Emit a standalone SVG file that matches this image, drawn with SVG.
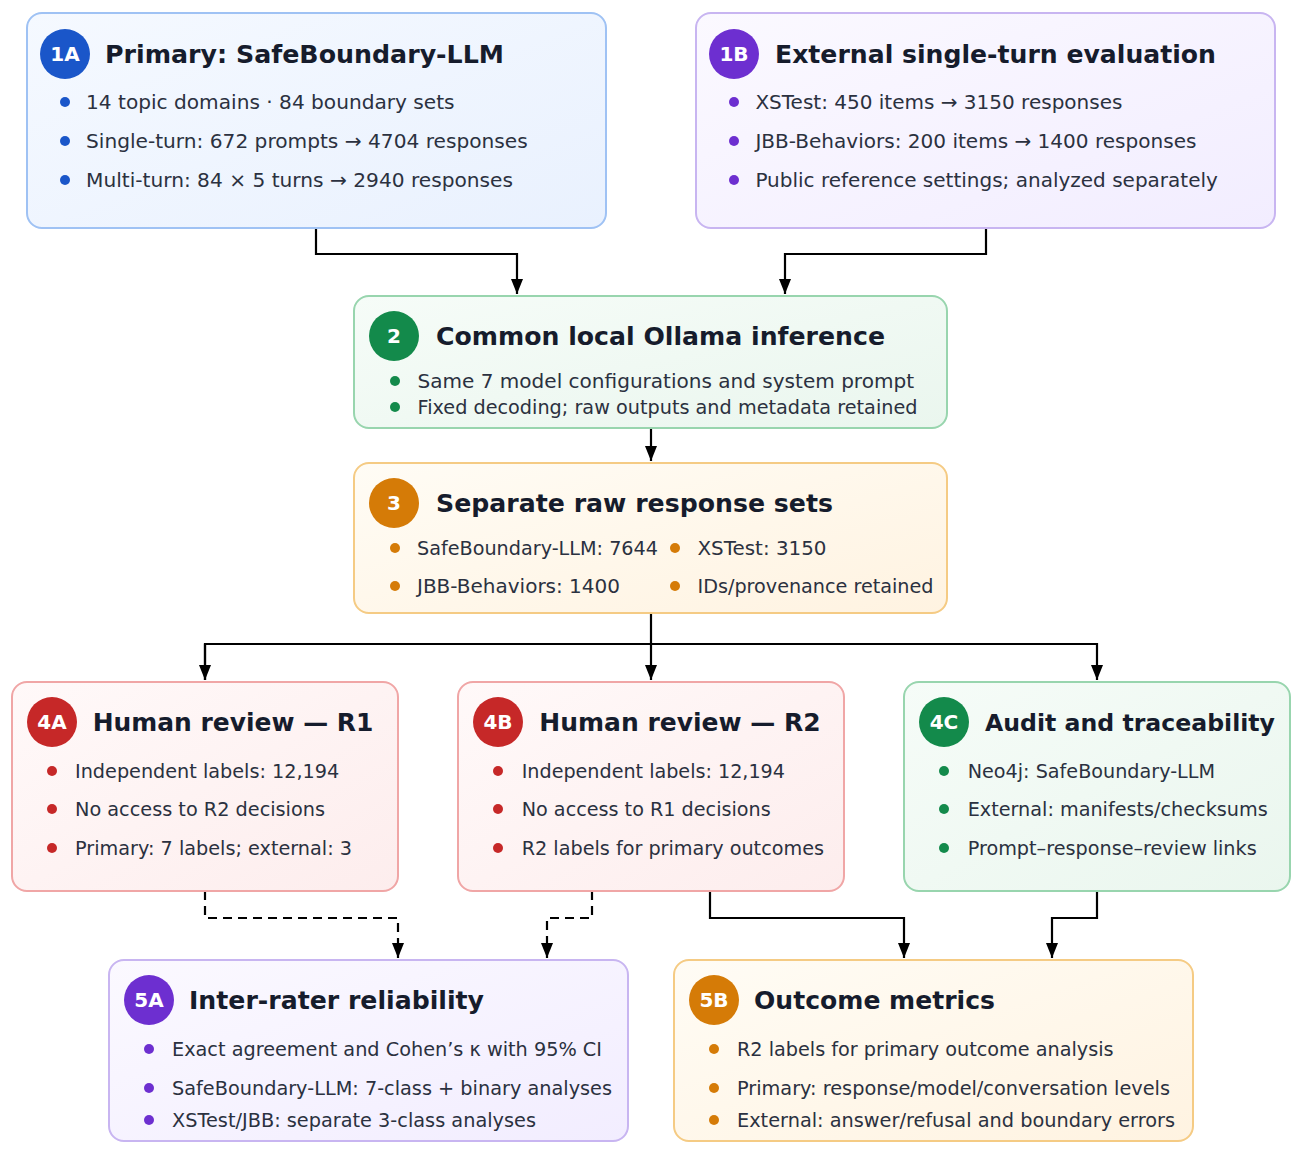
<svg xmlns="http://www.w3.org/2000/svg" width="1304" height="1156" viewBox="0 0 1304 1156">
<defs>
<linearGradient id="gBlue" x1="0" y1="0" x2="1" y2="1"><stop offset="0" stop-color="#f5f9ff"/><stop offset="1" stop-color="#e9f1fe"/></linearGradient>
<linearGradient id="gPurple" x1="0" y1="0" x2="1" y2="1"><stop offset="0" stop-color="#fbf9ff"/><stop offset="1" stop-color="#f2edff"/></linearGradient>
<linearGradient id="gGreen" x1="0" y1="0" x2="1" y2="1"><stop offset="0" stop-color="#f6fcf8"/><stop offset="1" stop-color="#eaf6ee"/></linearGradient>
<linearGradient id="gOrange" x1="0" y1="0" x2="1" y2="1"><stop offset="0" stop-color="#fffcf5"/><stop offset="1" stop-color="#fff3e1"/></linearGradient>
<linearGradient id="gRed" x1="0" y1="0" x2="1" y2="1"><stop offset="0" stop-color="#fff9f9"/><stop offset="1" stop-color="#fdeded"/></linearGradient>
<marker id="arr" viewBox="0 0 15 12" refX="15" refY="6" markerWidth="15" markerHeight="12" markerUnits="userSpaceOnUse" orient="auto"><path d="M0,0 L15,6 L0,12 Z" fill="#000"/></marker>
</defs>
<style>
.box{stroke-width:2}
.blue{fill:url(#gBlue);stroke:#9fc2f4}
.purple{fill:url(#gPurple);stroke:#c8b5f1}
.green{fill:url(#gGreen);stroke:#98d5ae}
.orange{fill:url(#gOrange);stroke:#f5cb84}
.red{fill:url(#gRed);stroke:#f0a6a6}
.title{font-family:"DejaVu Sans",sans-serif;font-weight:bold;font-size:25.1px;fill:#161c2c}
.badge{font-family:"DejaVu Sans",sans-serif;font-weight:bold;font-size:20px;fill:#fff;text-anchor:middle}
.body{font-family:"DejaVu Sans",sans-serif;font-size:19.25px;fill:#2b3140}
.big{font-size:20.1px}
.cb{fill:#1a56c9}.cp{fill:#6d2fd0}.cg{fill:#138a4b}.co{fill:#d57b07}.cr{fill:#c62828}
.conn{fill:none;stroke:#000;stroke-width:2.2}
.dash{stroke-dasharray:9 6}
</style>

<g id="connectors">
<path class="conn" d="M316,228 V254 H517 V294" marker-end="url(#arr)"/>
<path class="conn" d="M986,228 V254 H785 V294" marker-end="url(#arr)"/>
<path class="conn" d="M651,428 V461" marker-end="url(#arr)"/>
<path class="conn" d="M651,613 V680" marker-end="url(#arr)"/>
<path class="conn" d="M205,680 V644 H1097 V680" marker-end="url(#arr)"/>
<path class="conn" d="M205,644 V680" marker-end="url(#arr)"/>
<path class="conn dash" d="M205,891 V918 H398 V958" marker-end="url(#arr)"/>
<path class="conn dash" d="M592,891 V918 H547 V958" marker-end="url(#arr)"/>
<path class="conn" d="M710,891 V918 H904 V958" marker-end="url(#arr)"/>
<path class="conn" d="M1097,891 V918 H1052 V958" marker-end="url(#arr)"/>
</g>

<g id="node-1A">
<rect class="box blue" x="27" y="13" width="579" height="215" rx="15"/>
<circle class="cb" cx="65" cy="54" r="25"/>
<text class="badge" x="65" y="61">1A</text>
<text class="title" x="105" y="63" textLength="399" lengthAdjust="spacingAndGlyphs">Primary: SafeBoundary-LLM</text>
<circle class="cb" cx="65" cy="102" r="5"/><text class="body big" x="86" y="109" textLength="368.6" lengthAdjust="spacingAndGlyphs">14 topic domains · 84 boundary sets</text>
<circle class="cb" cx="65" cy="141" r="5"/><text class="body big" x="86" y="148" textLength="441.7" lengthAdjust="spacingAndGlyphs">Single-turn: 672 prompts → 4704 responses</text>
<circle class="cb" cx="65" cy="180" r="5"/><text class="body big" x="86" y="187" textLength="427" lengthAdjust="spacingAndGlyphs">Multi-turn: 84 × 5 turns → 2940 responses</text>
</g>

<g id="node-1B">
<rect class="box purple" x="696" y="13" width="579" height="215" rx="15"/>
<circle class="cp" cx="734" cy="54" r="25"/>
<text class="badge" x="734" y="61">1B</text>
<text class="title" x="775" y="63" textLength="441" lengthAdjust="spacingAndGlyphs">External single-turn evaluation</text>
<circle class="cp" cx="734" cy="102" r="5"/><text class="body big" x="755.4" y="109" textLength="367" lengthAdjust="spacingAndGlyphs">XSTest: 450 items → 3150 responses</text>
<circle class="cp" cx="734" cy="141" r="5"/><text class="body big" x="755.4" y="148" textLength="441" lengthAdjust="spacingAndGlyphs">JBB-Behaviors: 200 items → 1400 responses</text>
<circle class="cp" cx="734" cy="180" r="5"/><text class="body big" x="755.4" y="187" textLength="462.5" lengthAdjust="spacingAndGlyphs">Public reference settings; analyzed separately</text>
</g>

<g id="node-2">
<rect class="box green" x="354" y="296" width="593" height="132" rx="15"/>
<circle class="cg" cx="394" cy="336" r="25"/>
<text class="badge" x="394" y="343">2</text>
<text class="title" x="436" y="345" textLength="449" lengthAdjust="spacingAndGlyphs">Common local Ollama inference</text>
<circle class="cg" cx="395" cy="381" r="5"/><text class="body" x="417.5" y="388" textLength="496.5" lengthAdjust="spacingAndGlyphs">Same 7 model configurations and system prompt</text>
<circle class="cg" cx="395" cy="407" r="5"/><text class="body" x="417.5" y="414" textLength="500" lengthAdjust="spacingAndGlyphs">Fixed decoding; raw outputs and metadata retained</text>
</g>

<g id="node-3">
<rect class="box orange" x="354" y="463" width="593" height="150" rx="15"/>
<circle class="co" cx="394" cy="503" r="25"/>
<text class="badge" x="394" y="510">3</text>
<text class="title" x="436" y="512" textLength="397" lengthAdjust="spacingAndGlyphs">Separate raw response sets</text>
<circle class="co" cx="395" cy="548" r="5"/><text class="body" x="417" y="555" textLength="241" lengthAdjust="spacingAndGlyphs">SafeBoundary-LLM: 7644</text>
<circle class="co" cx="675" cy="548" r="5"/><text class="body" x="697.5" y="555" textLength="129" lengthAdjust="spacingAndGlyphs">XSTest: 3150</text>
<circle class="co" cx="395" cy="586" r="5"/><text class="body" x="417" y="593" textLength="203" lengthAdjust="spacingAndGlyphs">JBB-Behaviors: 1400</text>
<circle class="co" cx="675" cy="586" r="5"/><text class="body" x="697.5" y="593" textLength="236" lengthAdjust="spacingAndGlyphs">IDs/provenance retained</text>
</g>

<g id="node-4A">
<rect class="box red" x="12" y="682" width="386" height="209" rx="15"/>
<circle class="cr" cx="52" cy="722" r="25"/>
<text class="badge" x="52" y="729">4A</text>
<text class="title" x="92.7" y="731" textLength="280.6" lengthAdjust="spacingAndGlyphs">Human review — R1</text>
<circle class="cr" cx="52" cy="771" r="5"/><text class="body" x="75" y="778" textLength="264.3" lengthAdjust="spacingAndGlyphs">Independent labels: 12,194</text>
<circle class="cr" cx="52" cy="809" r="5"/><text class="body" x="75" y="816" textLength="250" lengthAdjust="spacingAndGlyphs">No access to R2 decisions</text>
<circle class="cr" cx="52" cy="848" r="5"/><text class="body" x="75" y="855" textLength="277" lengthAdjust="spacingAndGlyphs">Primary: 7 labels; external: 3</text>
</g>

<g id="node-4B">
<rect class="box red" x="458" y="682" width="386" height="209" rx="15"/>
<circle class="cr" cx="498" cy="722" r="25"/>
<text class="badge" x="498" y="729">4B</text>
<text class="title" x="539.3" y="731" textLength="281.4" lengthAdjust="spacingAndGlyphs">Human review — R2</text>
<circle class="cr" cx="498" cy="771" r="5"/><text class="body" x="521.7" y="778" textLength="263.3" lengthAdjust="spacingAndGlyphs">Independent labels: 12,194</text>
<circle class="cr" cx="498" cy="809" r="5"/><text class="body" x="521.7" y="816" textLength="249" lengthAdjust="spacingAndGlyphs">No access to R1 decisions</text>
<circle class="cr" cx="498" cy="848" r="5"/><text class="body" x="521.7" y="855" textLength="302.3" lengthAdjust="spacingAndGlyphs">R2 labels for primary outcomes</text>
</g>

<g id="node-4C">
<rect class="box green" x="904" y="682" width="386" height="209" rx="15"/>
<circle class="cg" cx="944" cy="722" r="25"/>
<text class="badge" x="944" y="729">4C</text>
<text class="title" x="985" y="731" style="font-size:23.7px" textLength="290" lengthAdjust="spacingAndGlyphs">Audit and traceability</text>
<circle class="cg" cx="944" cy="771" r="5"/><text class="body" x="967.7" y="778" textLength="247.3" lengthAdjust="spacingAndGlyphs">Neo4j: SafeBoundary-LLM</text>
<circle class="cg" cx="944" cy="809" r="5"/><text class="body" x="967.7" y="816" textLength="300" lengthAdjust="spacingAndGlyphs">External: manifests/checksums</text>
<circle class="cg" cx="944" cy="848" r="5"/><text class="body" x="967.7" y="855" textLength="289" lengthAdjust="spacingAndGlyphs">Prompt–response–review links</text>
</g>

<g id="node-5A">
<rect class="box purple" x="109" y="960" width="519" height="181" rx="15"/>
<circle class="cp" cx="149" cy="1000" r="25"/>
<text class="badge" x="149" y="1007">5A</text>
<text class="title" x="189" y="1009" textLength="295" lengthAdjust="spacingAndGlyphs">Inter-rater reliability</text>
<circle class="cp" cx="149" cy="1049" r="5"/><text class="body" x="172" y="1056" textLength="430" lengthAdjust="spacingAndGlyphs">Exact agreement and Cohen’s κ with 95% CI</text>
<circle class="cp" cx="149" cy="1088" r="5"/><text class="body" x="172" y="1095" textLength="440" lengthAdjust="spacingAndGlyphs">SafeBoundary-LLM: 7-class + binary analyses</text>
<circle class="cp" cx="149" cy="1120" r="5"/><text class="body" x="172" y="1127" textLength="364" lengthAdjust="spacingAndGlyphs">XSTest/JBB: separate 3-class analyses</text>
</g>

<g id="node-5B">
<rect class="box orange" x="674" y="960" width="519" height="181" rx="15"/>
<circle class="co" cx="714" cy="1000" r="25"/>
<text class="badge" x="714" y="1007">5B</text>
<text class="title" x="754" y="1009" textLength="241" lengthAdjust="spacingAndGlyphs">Outcome metrics</text>
<circle class="co" cx="714" cy="1049" r="5"/><text class="body" x="737" y="1056" textLength="376.5" lengthAdjust="spacingAndGlyphs">R2 labels for primary outcome analysis</text>
<circle class="co" cx="714" cy="1088" r="5"/><text class="body" x="737" y="1095" textLength="433" lengthAdjust="spacingAndGlyphs">Primary: response/model/conversation levels</text>
<circle class="co" cx="714" cy="1120" r="5"/><text class="body" x="737" y="1127" textLength="438" lengthAdjust="spacingAndGlyphs">External: answer/refusal and boundary errors</text>
</g>
</svg>
